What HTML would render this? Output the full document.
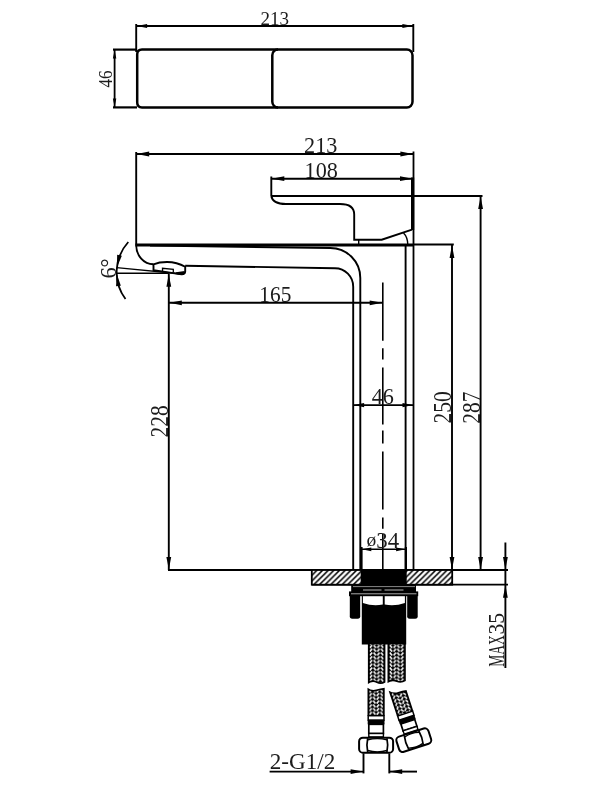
<!DOCTYPE html>
<html lang="en">
<head>
<meta charset="utf-8">
<title>Basin mixer dimension drawing</title>
<style>
html,body{margin:0;padding:0;background:#fff;}
body{width:600px;height:788px;overflow:hidden;}
svg{display:block;will-change:transform;filter:grayscale(1) blur(0.4px);}
.d .f{fill:#000;stroke:none;}
.d text{font-family:"Liberation Serif",serif;fill:#1c1c1c;stroke:none;}
</style>
</head>
<body>
<svg width="600" height="788" viewBox="0 0 600 788" class="d" fill="none" stroke="#000">
<defs>
<pattern id="hatch" patternUnits="userSpaceOnUse" x="312.6" y="570" width="5.65" height="5.65">
<rect x="0" y="0" width="5.65" height="5.65" style="fill:#fff;stroke:none"/>
<path d="M-1,5.65 L5.65,-1 M-1,11.3 L11.3,-1 M-1,0 L0,-1" style="stroke:#000;stroke-width:1.55;fill:none"/>
</pattern>
<pattern id="braid" patternUnits="userSpaceOnUse" x="369.1" y="644.6" width="7.5" height="3.75">
<rect x="0" y="0" width="7.5" height="3.75" style="fill:#000;stroke:none"/>
<path d="M0.7,3.3 L3.0,0.5 M4.5,0.5 L6.8,3.3" style="stroke:#fff;stroke-width:1.6;fill:none"/>
</pattern>
<pattern id="braid2" patternUnits="userSpaceOnUse" x="389.1" y="644.6" width="7.5" height="3.75">
<rect x="0" y="0" width="7.5" height="3.75" style="fill:#000;stroke:none"/>
<path d="M0.7,0.5 L3.0,3.3 M4.5,3.3 L6.8,0.5" style="stroke:#fff;stroke-width:1.6;fill:none"/>
</pattern>
<pattern id="braid3" patternUnits="userSpaceOnUse" x="-7.3" y="0" width="7.3" height="3.75">
<rect x="0" y="0" width="7.3" height="3.75" style="fill:#000;stroke:none"/>
<path d="M0.6,3.3 L2.9,0.5 M4.4,0.5 L6.7,3.3" style="stroke:#fff;stroke-width:1.6;fill:none"/>
</pattern>
</defs>
<rect x="0" y="0" width="600" height="788" style="fill:#fff;stroke:none"/>
<g id="topview">
<line x1="136.2" y1="24" x2="136.2" y2="52" stroke-width="1.9"/>
<line x1="413.3" y1="24" x2="413.3" y2="52" stroke-width="1.9"/>
<line x1="136.2" y1="26" x2="413.3" y2="26" stroke-width="1.9"/>
<polygon class="f" points="136.6,26 147.1,24.1 147.1,27.9"/>
<polygon class="f" points="412.9,26 402.4,27.9 402.4,24.1"/>
<text x="274.8" y="25" font-size="18.6" text-anchor="middle" textLength="28.6" lengthAdjust="spacingAndGlyphs">213</text>
<path d="M278,49.6 H142 Q137.2,49.6 137.2,54.5 V102.5 Q137.2,107.4 142,107.4 H278" stroke-width="2.5"/>
<rect x="272.3" y="49.6" width="140.2" height="57.8" rx="5.6" ry="5.6" stroke-width="2.5"/>
<line x1="113" y1="49.6" x2="137" y2="49.6" stroke-width="2.2"/>
<line x1="113" y1="107.4" x2="137" y2="107.4" stroke-width="2.2"/>
<line x1="114.6" y1="49.6" x2="114.6" y2="107.4" stroke-width="1.8"/>
<polygon class="f" points="114.6,50 116.3,58.5 112.9,58.5"/>
<polygon class="f" points="114.6,107 112.9,98.5 116.3,98.5"/>
<text x="112.3" y="79" font-size="18.8" text-anchor="middle" textLength="17.2" lengthAdjust="spacingAndGlyphs" transform="rotate(-90 112.3 79)">46</text>
</g>
<g id="sideview">
<line x1="136.2" y1="152" x2="136.2" y2="245" stroke-width="1.9"/>
<line x1="136.2" y1="154" x2="413.4" y2="154" stroke-width="1.9"/>
<polygon class="f" points="136.6,154 149.2,151.6 149.2,156.4"/>
<polygon class="f" points="413,154 400.4,156.4 400.4,151.6"/>
<text x="320.7" y="153.2" font-size="22.8" text-anchor="middle" textLength="33.3" lengthAdjust="spacingAndGlyphs">213</text>
<line x1="271.3" y1="176.5" x2="271.3" y2="196" stroke-width="1.9"/>
<line x1="271.3" y1="178.7" x2="413" y2="178.7" stroke-width="1.9"/>
<polygon class="f" points="271.7,178.7 284.3,176.3 284.3,181.1"/>
<polygon class="f" points="412.6,178.7 400,181.1 400,176.3"/>
<text x="321.2" y="177.6" font-size="22.8" text-anchor="middle" textLength="33.3" lengthAdjust="spacingAndGlyphs">108</text>
<line x1="413.5" y1="151.5" x2="413.5" y2="570" stroke-width="1.8"/>
<line x1="412.6" y1="177.5" x2="412.6" y2="230" stroke-width="3.2"/>
<line x1="271.3" y1="196" x2="482.5" y2="196" stroke-width="1.9"/>
<path d="M271.3,196 Q272.5,204 286,204 H340 Q354.2,204 354.2,214.5 V239.7 H381.7 L412,229.6" stroke-width="1.9"/>
<path d="M403.5,233 Q407.6,237 407.8,244.5" stroke-width="1.4"/>
<line x1="358.7" y1="239.7" x2="358.7" y2="245" stroke-width="1.4"/>
<line x1="135.4" y1="245" x2="413.5" y2="245" stroke-width="3.2"/>
<line x1="413" y1="244.5" x2="453.8" y2="244.5" stroke-width="1.9"/>
<path d="M136.2,245 A17.1,19.3 0 0 0 153.3,264.3" stroke-width="1.9"/>
<path d="M153.5,270 V264.3 Q159,262 167,262 Q177,262 185.2,266.8 V271.5 Q185,274.6 181.5,274.4 L153.5,270.2 Z" stroke-width="1.9"/>
<path d="M162.5,271 V268.3 L173.3,269.3 V272.5" stroke-width="1.3"/>
<path class="f" d="M176,272.2 L184.6,271 L184.4,273.6 L181.6,275 L176,274 Z"/>
<path d="M185.2,265.8 L335,268.2 A18.2,18.5 0 0 1 353.2,286.7 V570" stroke-width="1.9"/>
<path d="M150,245.6 L330.3,248 A30,30 0 0 1 360.3,278 V570" stroke-width="1.9"/>
<line x1="405.6" y1="245" x2="405.6" y2="570" stroke-width="1.9"/>
<line x1="116.7" y1="267.6" x2="182" y2="274" stroke-width="1.4"/>
<line x1="116.7" y1="273.3" x2="168.8" y2="273.3" stroke-width="1.6"/>
<path d="M128.3,242 A45,45 0 0 0 125.5,299" stroke-width="1.8"/>
<polygon class="f" points="116.9,267.4 117.15,254.67 121.85,255.67"/>
<polygon class="f" points="116.7,273.6 120.82,285.64 116.06,286.31"/>
<text x="115.6" y="278.6" font-size="22.5" text-anchor="start" transform="rotate(-90 115.6 278.6)">6<tspan dx="-0.2" dy="1.0">°</tspan></text>
<line x1="168.8" y1="273.5" x2="168.8" y2="570" stroke-width="1.9"/>
<line x1="168.8" y1="302.8" x2="382.5" y2="302.8" stroke-width="1.9"/>
<polygon class="f" points="169.2,302.8 181.8,300.4 181.8,305.2"/>
<polygon class="f" points="382.3,302.8 369.7,305.2 369.7,300.4"/>
<polygon class="f" points="168.8,274.2 171.2,286.8 166.4,286.8"/>
<text x="275.3" y="301.5" font-size="22.8" text-anchor="middle" textLength="32" lengthAdjust="spacingAndGlyphs">165</text>
<polygon class="f" points="168.8,569.5 166.4,556.9 171.2,556.9"/>
<text x="167.5" y="421.5" font-size="24.2" text-anchor="middle" textLength="32.25" lengthAdjust="spacingAndGlyphs" transform="rotate(-90 167.5 421.5)">228</text>
<line x1="382.8" y1="282.6" x2="382.8" y2="340.7" stroke-width="1.6"/>
<line x1="382.8" y1="348.2" x2="382.8" y2="359.4" stroke-width="1.6"/>
<line x1="382.8" y1="367.5" x2="382.8" y2="424.4" stroke-width="1.6"/>
<line x1="382.8" y1="430.5" x2="382.8" y2="443.4" stroke-width="1.6"/>
<line x1="382.8" y1="451.5" x2="382.8" y2="509.4" stroke-width="1.6"/>
<line x1="382.8" y1="517.5" x2="382.8" y2="528.7" stroke-width="1.6"/>
<line x1="382.8" y1="534" x2="382.8" y2="596" stroke-width="1.6"/>
<line x1="353.5" y1="405.1" x2="413.3" y2="405.1" stroke-width="1.9"/>
<polygon class="f" points="353.6,405.1 364.1,402.9 364.1,407.3"/>
<polygon class="f" points="413,405.1 402.5,407.3 402.5,402.9"/>
<text x="382.8" y="404.2" font-size="22.8" text-anchor="middle" textLength="22.2" lengthAdjust="spacingAndGlyphs">46</text>
<line x1="452" y1="245" x2="452" y2="570" stroke-width="1.9"/>
<polygon class="f" points="452,245.3 454.4,257.9 449.6,257.9"/>
<polygon class="f" points="452,569.5 449.6,556.9 454.4,556.9"/>
<text x="451" y="407.5" font-size="24.2" text-anchor="middle" textLength="32.25" lengthAdjust="spacingAndGlyphs" transform="rotate(-90 451 407.5)">250</text>
<line x1="480.6" y1="196" x2="480.6" y2="570" stroke-width="1.9"/>
<polygon class="f" points="480.6,196.5 483,209.1 478.2,209.1"/>
<polygon class="f" points="480.6,569.5 478.2,556.9 483,556.9"/>
<text x="479.5" y="407.5" font-size="24.2" text-anchor="middle" textLength="32.25" lengthAdjust="spacingAndGlyphs" transform="rotate(-90 479.5 407.5)">287</text>
<line x1="361.5" y1="547" x2="361.5" y2="570" stroke-width="2.2"/>
<line x1="405.9" y1="547" x2="405.9" y2="570" stroke-width="2.2"/>
<line x1="361.5" y1="549.3" x2="405.9" y2="549.3" stroke-width="1.6"/>
<polygon class="f" points="361.8,549.3 371.3,547.4 371.3,551.2"/>
<polygon class="f" points="405.6,549.3 396.1,551.2 396.1,547.4"/>
<text x="382.8" y="547.8" font-size="22.8" text-anchor="middle" textLength="32.6" lengthAdjust="spacingAndGlyphs"><tspan font-size="19.5" dy="-1.8">ø</tspan><tspan dy="1.8">34</tspan></text>
<line x1="168" y1="570" x2="508" y2="570" stroke-width="1.8"/>
<line x1="311.8" y1="584.7" x2="508" y2="584.7" stroke-width="1.8"/>
<rect x="311.8" y="570" width="140.4" height="14.7" style="fill:url(#hatch)" stroke-width="1.8"/>
<rect class="f" x="360.7" y="569.1" width="46" height="16.4"/>
<line x1="505.4" y1="542.5" x2="505.4" y2="668" stroke-width="1.9"/>
<polygon class="f" points="505.4,569.6 503,557 507.8,557"/>
<polygon class="f" points="505.4,585.2 507.8,597.8 503,597.8"/>
<text x="504.2" y="667" font-size="22.8" text-anchor="start" transform="rotate(-90 504 667)"><tspan textLength="31.6" lengthAdjust="spacingAndGlyphs">MAX</tspan><tspan dx="0.6" textLength="21.5" lengthAdjust="spacingAndGlyphs">35</tspan></text>
<rect class="f" x="351.2" y="585" width="64.8" height="7"/>
<rect class="f" x="349" y="591.4" width="69.2" height="4.8"/>
<line x1="353" y1="586.6" x2="415" y2="586.6" stroke-width="0.8" stroke="#aaa"/>
<line x1="363" y1="590" x2="381.5" y2="590" stroke-width="1.0" stroke="#bbb"/>
<line x1="384.5" y1="590" x2="403.5" y2="590" stroke-width="1.0" stroke="#bbb"/>
<line x1="351" y1="593.8" x2="416.5" y2="593.8" stroke-width="0.9" stroke="#bbb"/>
<path class="f" d="M349.8,595 H360.2 V615 Q360.8,618.8 357.59999999999997,618.8 H352.40000000000003 Q349.2,618.8 349.8,615 Z"/>
<path class="f" d="M407.2,595 H417.7 V615 Q418.3,618.8 415.09999999999997,618.8 H409.8 Q406.59999999999997,618.8 407.2,615 Z"/>
<path class="f" d="M361.8,596 V644.4 H406.2 V596 H404.9 V603 Q394.8,606.6 384.7,604.6 V596 H382.8 V604.6 Q372.8,606.6 362.9,603 V596 Z"/>
<path class="f" d="M367.9,644 H385.4 V682.4 Q381,685.2 376.6,683 Q372.3,680.8 367.9,684 Z"/>
<path d="M369.6,644 H383.7 V681.5 Q381,683 376.6,681.2 Q372.3,679.4 369.6,681 Z" style="fill:url(#braid)" stroke="none"/>
<path class="f" d="M387.5,644 H405.8 V681 Q401.2,684 396.6,682 Q392,680 387.5,683 Z"/>
<path d="M389.2,644 H404.1 V680 Q401.2,682 396.6,680.2 Q392,678.4 389.2,680.4 Z" style="fill:url(#braid2)" stroke="none"/>
<g transform="translate(376.1,745.2) rotate(0)">
<path class="f" d="M-8.6,-57.5 Q-4.3,-54.3 0,-55.7 Q4.3,-57.1 8.6,-57.5 V-29.5 H-8.6 Z"/>
<path d="M-6.8999999999999995,-55.1 Q-4.3,-52.5 0,-53.9 Q4.3,-55.3 6.8999999999999995,-55.3 V-29.5 H-6.8999999999999995 Z" style="fill:url(#braid3)" stroke="none"/>
<rect x="-7.8999999999999995" y="-29.5" width="15.8" height="4.4" style="fill:#fff" stroke-width="1.5"/>
<rect class="f" x="-8.4" y="-25.3" width="16.8" height="4.4"/>
<rect x="-7.3" y="-20.9" width="14.6" height="9.2" style="fill:#fff" stroke-width="1.7"/>
<rect x="-7.3" y="-11.7" width="14.6" height="3.4" style="fill:#fff" stroke-width="1.4"/>
<rect x="-17" y="-7.5" width="34" height="15" rx="3.8" style="fill:#fff" stroke-width="2"/>
<path d="M-8.4,-7 Q-10,0 -8.4,7 M10.8,-7 Q12.4,0 10.8,7" stroke-width="1.7"/>
<path d="M-8.4,-5.3 Q1.2,-7.9 10.8,-5.3 M-8.4,5.3 Q1.2,7.9 10.8,5.3" stroke-width="1.3"/>
</g>
<g transform="translate(413.8,740.2) rotate(-18)">
<path class="f" d="M-8.6,-54.9 Q-4.3,-50.5 0,-50.7 Q4.3,-50.9 8.6,-50.1 V-28 H-8.6 Z"/>
<path d="M-6.8999999999999995,-52.5 Q-4.3,-48.7 0,-48.9 Q4.3,-49.1 6.8999999999999995,-47.9 V-28 H-6.8999999999999995 Z" style="fill:url(#braid3)" stroke="none"/>
<rect x="-7.8999999999999995" y="-28" width="15.8" height="4.4" style="fill:#fff" stroke-width="1.5"/>
<rect class="f" x="-8.4" y="-23.8" width="16.8" height="4.4"/>
<rect x="-7.3" y="-19.4" width="14.6" height="7.2" style="fill:#fff" stroke-width="1.7"/>
<rect x="-7.3" y="-12.2" width="14.6" height="3.4" style="fill:#fff" stroke-width="1.4"/>
<rect x="-16.8" y="-8" width="33.6" height="16" rx="3.8" style="fill:#fff" stroke-width="2"/>
<path d="M-7.6,-7.5 Q-9.2,0 -7.6,7.5 M7.6,-7.5 Q9.2,0 7.6,7.5" stroke-width="1.7"/>
<path d="M-7.6,-5.8 Q0,-8.4 7.6,-5.8 M-7.6,5.8 Q0,8.4 7.6,5.8" stroke-width="1.3"/>
</g>
<line x1="363.5" y1="753.4" x2="363.5" y2="773.4" stroke-width="1.9"/>
<line x1="389.3" y1="753.4" x2="389.3" y2="773.4" stroke-width="1.9"/>
<line x1="269.6" y1="771.6" x2="363.5" y2="771.6" stroke-width="1.9"/>
<line x1="389.3" y1="771.6" x2="417" y2="771.6" stroke-width="1.9"/>
<polygon class="f" points="363.2,771.6 350.6,774 350.6,769.2"/>
<polygon class="f" points="389.6,771.6 402.2,769.2 402.2,774"/>
<text x="302.5" y="769" font-size="22.6" text-anchor="middle" textLength="65.5" lengthAdjust="spacingAndGlyphs">2-G1/2</text>
</g>
</svg>
</body>
</html>
